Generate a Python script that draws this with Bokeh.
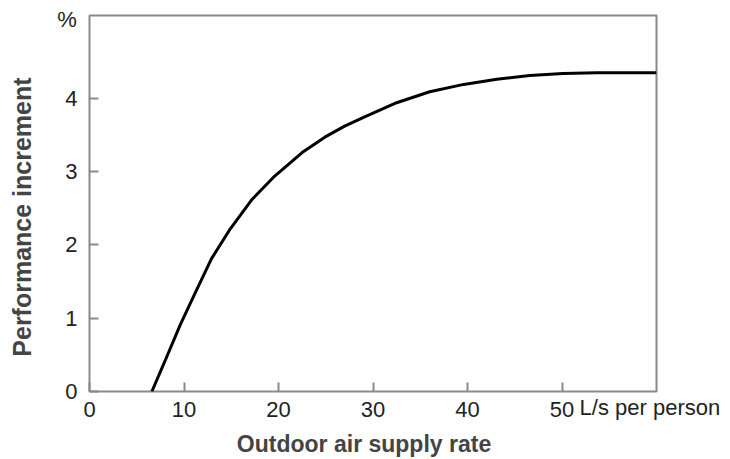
from math import pi
from bokeh.plotting import figure
from bokeh.models import (Label, Range1d, FixedTicker, LinearAxis,
                          CustomJSTickFormatter)
from bokeh.embed import file_html
from bokeh.resources import INLINE

# Data
air_rate = [6.6, 8.0, 9.6, 11.2, 12.9, 14.9, 17.2, 19.6, 22.5, 24.9, 27.0,
            29.0, 32.5, 36.0, 39.6, 43.1, 46.6, 50.1, 53.7, 57.2, 60.0]
perf_increment = [0.0, 0.42, 0.91, 1.35, 1.81, 2.22, 2.62, 2.94, 3.26, 3.47, 3.62,
                  3.74, 3.94, 4.09, 4.19, 4.26, 4.31, 4.34, 4.35, 4.35, 4.35]
x_ticks = [0, 10, 20, 30, 40, 50]
y_ticks = [0, 1, 2, 3, 4]
x_title = "Outdoor air supply rate"
y_title = "Performance increment"
x_unit = "L/s per person"
y_unit = "%"

FONT = "Liberation Sans"
GRAY = "#8a8a8a"
LABEL_COLOR = "#222222"
UNIT_ANCHOR = 59.3   # x position (data units) of the centre of the unit text

p = figure(width=726, height=459, output_backend="svg", toolbar_location=None,
           x_range=Range1d(0, 60), y_range=Range1d(0, 5.13),
           min_border_left=89, min_border_right=70, min_border_top=15,
           min_border_bottom=68)
p.background_fill_color = "white"
p.border_fill_color = "white"
p.outline_line_color = GRAY
p.outline_line_width = 2
p.grid.visible = False

for ax in (p.xaxis[0], p.yaxis[0]):
    ax.axis_line_color = None
    ax.major_tick_in = 9
    ax.major_tick_out = 0
    ax.major_tick_line_color = GRAY
    ax.major_tick_line_width = 2
    ax.minor_tick_line_color = None
    ax.major_label_text_font = FONT
    ax.major_label_text_font_size = "22px"
    ax.major_label_text_color = LABEL_COLOR
p.xaxis.major_label_standoff = 10
p.yaxis.major_label_standoff = 12

p.xaxis.ticker = FixedTicker(ticks=x_ticks)
p.yaxis.ticker = FixedTicker(ticks=y_ticks)

# unit text after the "50" tick label: a bare second axis whose only tick label
# is lifted back onto the row of the main tick labels
unit_axis = LinearAxis(ticker=FixedTicker(ticks=[UNIT_ANCHOR]),
                       formatter=CustomJSTickFormatter(args=dict(unit=x_unit),
                                                       code="return unit"),
                       major_label_standoff=-25, axis_line_color=None,
                       major_tick_line_color=None, minor_tick_line_color=None,
                       major_tick_in=0, major_tick_out=0,
                       minor_tick_in=0, minor_tick_out=0,
                       major_label_text_font=FONT, major_label_text_font_size="22px",
                       major_label_text_color=LABEL_COLOR)
p.add_layout(unit_axis, "below")

p.line(air_rate, perf_increment, line_color="black", line_width=3)

p.add_layout(Label(x=29.05, y=-0.72, text=x_title, text_font=FONT,
                   text_font_size="23px", text_font_style="bold",
                   text_align="center", text_baseline="middle"), "below")
p.add_layout(Label(x=-7.14, y=2.38, text=y_title, text_font=FONT,
                   text_font_size="25px", text_font_style="bold", angle=pi / 2,
                   text_align="center", text_baseline="middle"), "left")
p.add_layout(Label(x=-2.38, y=5.07, text=y_unit, text_font=FONT,
                   text_font_size="22px", text_color=LABEL_COLOR,
                   text_align="center", text_baseline="middle"), "left")

open("out.html", "w").write(file_html(p, INLINE))
